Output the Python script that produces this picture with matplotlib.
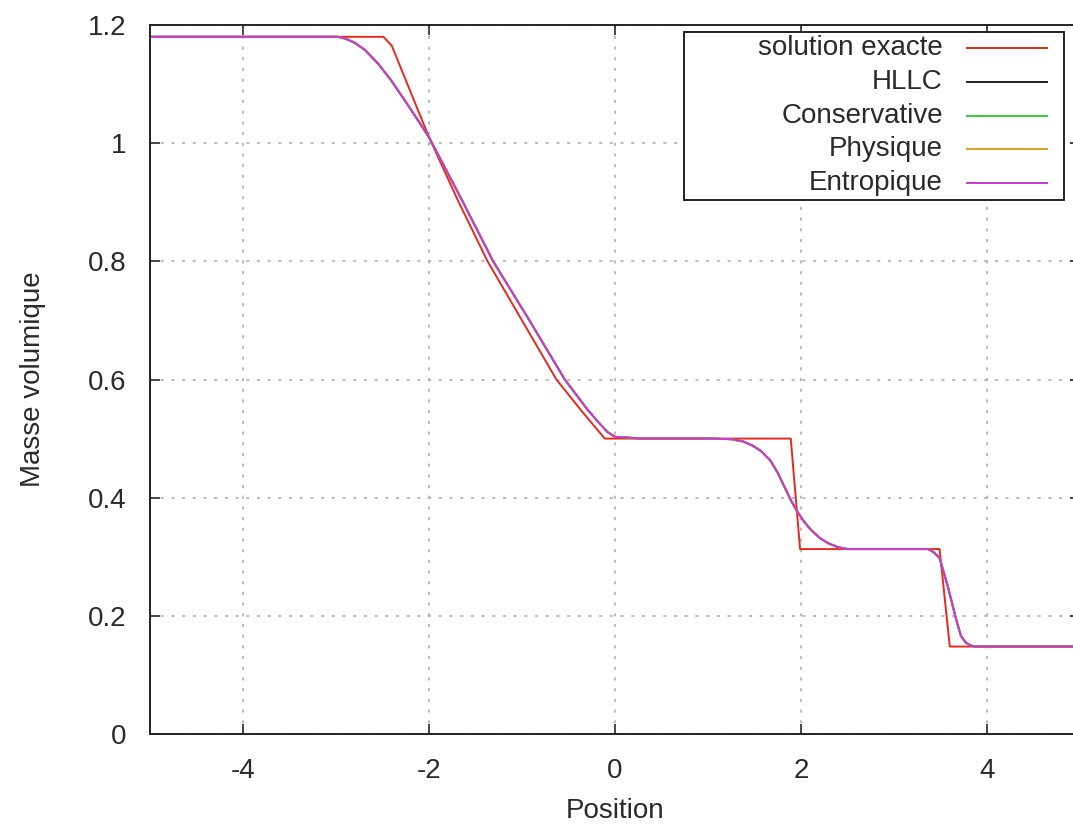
import matplotlib
matplotlib.use("Agg")
import matplotlib.pyplot as plt
from matplotlib.patches import Rectangle

plt.rcParams['font.family'] = ['Liberation Sans', 'DejaVu Sans']
plt.rcParams['axes.unicode_minus'] = False

# solution exacte
x_exact = [-5.0, -2.49, -2.40, -2.0, -1.68, -1.37, -1.0, -0.63, -0.35, -0.11,
           1.89, 1.99, 3.49, 3.60, 5.0]
rho_exact = [1.18, 1.18, 1.165, 1.01, 0.90, 0.80, 0.70, 0.60, 0.545, 0.50,
             0.50, 0.313, 0.313, 0.148, 0.148]

# schemas numeriques (HLLC, Conservative, Physique, Entropique se superposent)
x_num = [-5.0, -2.98, -2.90, -2.80, -2.69, -2.55, -2.41, -2.25, -2.12, -2.0,
         -1.65, -1.31, -0.92, -0.54, -0.30, -0.18, -0.08, 0.0, 0.3, 1.0,
         1.25, 1.38, 1.48, 1.57, 1.67, 1.75, 1.89, 1.95, 2.03, 2.11,
         2.20, 2.29, 2.40, 2.5, 3.37, 3.43, 3.49, 3.58, 3.67, 3.72,
         3.77, 3.82, 3.87, 5.0]
rho_num = [1.18, 1.18, 1.177, 1.170, 1.158, 1.135, 1.107, 1.07, 1.039, 1.01,
           0.905, 0.80, 0.70, 0.60, 0.55, 0.528, 0.511, 0.503, 0.50, 0.50,
           0.499, 0.495, 0.488, 0.479, 0.463, 0.442, 0.396, 0.379, 0.360, 0.345,
           0.332, 0.323, 0.316, 0.313, 0.313, 0.307, 0.298, 0.249, 0.193, 0.166,
           0.155, 0.150, 0.148, 0.148]

labels = ["solution exacte", "HLLC", "Conservative", "Physique", "Entropique"]
colors = ["#e8281c", "#202020", "#30d030", "#e0a020", "#c838d8"]
series = [(x_exact, rho_exact), (x_num, rho_num), (x_num, rho_num),
          (x_num, rho_num), (x_num, rho_num)]

W, H = 1073, 827
fig = plt.figure(figsize=(W / 100, H / 100), dpi=100)
# axe droit coupe par le bord de l'image, comme l'original
ax = fig.add_axes([150 / W, (H - 734) / H, 930 / W, 709 / H])

for (xs, ys), c in zip(series, colors):
    ax.plot(xs, ys, color=c, lw=1.4)

ax.set_xlim(-5, 5)
ax.set_ylim(0, 1.2)
ax.set_xticks([-4, -2, 0, 2, 4])
ax.set_yticks([0, 0.2, 0.4, 0.6, 0.8, 1, 1.2])
ax.set_yticklabels(["0", "0.2", "0.4", "0.6", "0.8", "1", "1.2"])
ax.tick_params(direction='in', length=7, width=1.2, labelsize=20,
               top=True, right=True, pad=17, colors='#2a2a2a')
ax.grid(True, color='#a8a8a8', linestyle=(0, (2, 5)), lw=1.1)
for s in ax.spines.values():
    s.set_linewidth(1.4)
    s.set_color('#222222')

ax.set_xlabel("Position", fontsize=20, labelpad=10, color='#2a2a2a')
ax.set_ylabel("Masse volumique", fontsize=20, labelpad=30, color='#2a2a2a')

# legende facon gnuplot : texte aligne a droite, trait a droite
def fx(px):
    return (px - 150) / 930

def fy(py):
    return (734 - py) / 709

ax.add_patch(Rectangle((fx(684), fy(200)), fx(1064) - fx(684), fy(32) - fy(200),
                       transform=ax.transAxes, facecolor='white',
                       edgecolor='#222222', lw=1.4, zorder=5))
rows = [48, 82, 116, 149, 183]
for lab, c, py in zip(labels, colors, rows):
    ax.text(fx(943), fy(py), lab, transform=ax.transAxes, ha='right',
            va='center', fontsize=20, color='#2a2a2a', zorder=6)
    ax.plot([fx(967), fx(1047)], [fy(py), fy(py)], transform=ax.transAxes,
            color=c, lw=1.4, zorder=6, clip_on=False)

fig.savefig("out.png", dpi=100)
